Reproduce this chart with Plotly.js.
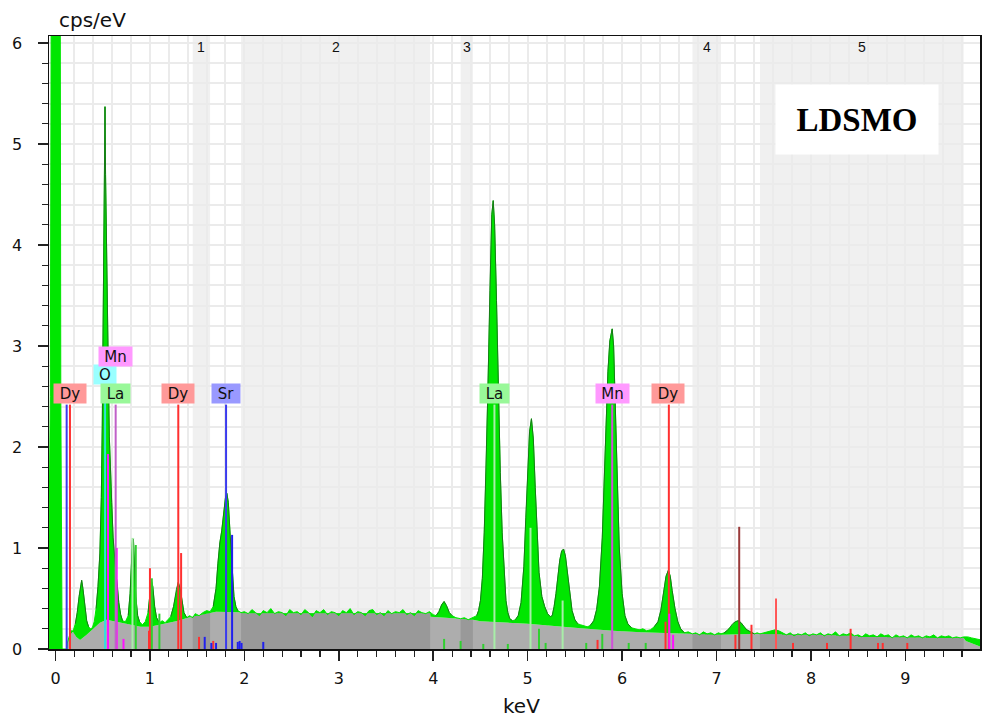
<!DOCTYPE html>
<html><head><meta charset="utf-8">
<script src="https://cdn.plot.ly/plotly-3.0.1.min.js"></script>
<style>body{margin:0;background:#fff}#chart{width:985px;height:718px}</style>
</head><body><div id="chart"></div>
<script>
// ---- measured spectrum (keV, cps/eV) ----
const specX = [-0.08,-0.069,-0.055,-0.042,0.048,0.056,0.064,0.07,0.12,0.125,0.15,0.17,0.19,0.21,0.23,0.25,0.265,0.277,0.29,0.31,0.33,0.35,0.37,0.39,0.41,0.43,0.45,0.47,0.485,0.495,0.505,0.515,0.524,0.53,0.54,0.55,0.56,0.57,0.58,0.595,0.61,0.625,0.64,0.655,0.67,0.69,0.71,0.74,0.77,0.79,0.805,0.815,0.825,0.835,0.85,0.87,0.89,0.92,0.95,0.98,1.00,1.015,1.03,1.05,1.07,1.10,1.13,1.16,1.19,1.22,1.25,1.28,1.30,1.32,1.34,1.36,1.39,1.42,1.453,1.48,1.52,1.56,1.60,1.637,1.67,1.70,1.72,1.74,1.76,1.78,1.80,1.815,1.83,1.85,1.87,1.89,1.91,1.93,1.965,
2.00,2.04,2.08,2.12,2.16,2.20,2.24,2.28,2.32,2.36,2.40,2.44,2.48,2.52,2.56,2.60,2.64,2.68,2.72,2.76,2.80,2.84,2.88,2.92,2.96,3.00,3.04,3.08,3.12,3.16,3.20,3.24,3.28,3.32,3.36,3.40,3.44,3.48,3.52,3.56,3.60,3.64,3.68,3.72,3.76,3.80,3.84,3.88,3.92,3.96,
4.00,4.03,4.06,4.09,4.115,4.14,4.17,4.20,4.24,4.29,4.33,4.37,4.42,4.46,4.48,4.50,4.52,4.54,4.56,4.58,4.60,4.62,4.635,4.65,4.67,4.69,4.71,4.73,4.75,4.77,4.79,4.81,4.84,4.87,4.90,4.93,4.96,4.98,5.00,5.02,5.04,5.06,5.08,5.10,5.12,5.15,5.18,5.21,5.24,5.26,5.28,5.30,5.32,5.34,5.36,5.38,5.40,5.42,5.44,5.47,5.50,5.53,5.56,5.60,5.63,5.66,5.70,5.73,5.76,5.79,5.81,5.83,5.85,5.87,5.895,5.91,5.93,5.95,5.97,6.00,6.03,6.06,6.10,6.14,6.18,6.22,6.26,6.30,6.34,6.38,6.41,6.44,6.465,6.49,6.51,6.53,6.56,6.59,6.62,6.66,6.70,6.745,6.78,6.82,6.86,6.90,6.94,6.98,7.02,7.047,7.08,7.11,7.14,7.17,7.20,7.23,7.26,7.29,7.32,7.36,7.40,7.43,7.46,7.50,7.54,7.58,7.62,7.66,7.70,7.74,7.78,7.82,7.86,7.90,7.94,7.98,8.02,8.06,8.10,8.14,8.18,8.22,8.26,8.30,8.34,8.38,8.42,8.46,8.50,8.54,8.58,8.62,8.66,8.70,8.74,8.78,8.82,8.86,8.90,8.94,8.98,9.02,9.06,9.10,9.14,9.18,9.22,9.26,9.30,9.34,9.38,9.42,9.46,9.50,9.54,9.58,9.617,9.66,9.70,9.75,9.80];
const specY = [0,0.9,2.5,8,8,2.5,0.3,0,0,0.06,0.14,0.17,0.19,0.25,0.36,0.52,0.63,0.68,0.60,0.42,0.28,0.22,0.20,0.21,0.27,0.40,0.62,0.95,1.5,2.2,3.2,4.3,5.37,4.7,3.8,3.2,2.7,2.1,1.75,1.45,1.1,0.88,0.75,0.62,0.46,0.34,0.28,0.27,0.33,0.55,0.85,1.08,1.09,0.88,0.52,0.33,0.27,0.24,0.27,0.36,0.55,0.68,0.62,0.42,0.31,0.26,0.28,0.26,0.29,0.32,0.42,0.59,0.66,0.60,0.46,0.36,0.31,0.33,0.31,0.35,0.33,0.36,0.38,0.37,0.42,0.60,0.85,1.05,1.17,1.32,1.50,1.54,1.45,1.12,0.76,0.52,0.42,0.38,0.36,
0.37,0.35,0.39,0.36,0.33,0.38,0.36,0.40,0.35,0.37,0.36,0.33,0.39,0.36,0.37,0.34,0.39,0.36,0.32,0.38,0.36,0.39,0.34,0.37,0.36,0.33,0.38,0.36,0.40,0.34,0.37,0.36,0.33,0.38,0.39,0.34,0.36,0.33,0.38,0.35,0.37,0.36,0.39,0.34,0.36,0.33,0.38,0.36,0.35,0.37,
0.34,0.33,0.37,0.44,0.47,0.43,0.36,0.33,0.31,0.30,0.31,0.29,0.31,0.33,0.38,0.48,0.70,1.15,1.8,2.6,3.55,4.3,4.44,4.2,3.45,2.5,1.75,1.15,0.75,0.48,0.36,0.30,0.28,0.29,0.33,0.46,0.82,1.3,1.8,2.15,2.28,2.08,1.6,1.12,0.76,0.52,0.42,0.35,0.32,0.33,0.42,0.55,0.72,0.88,0.97,0.99,0.92,0.76,0.56,0.38,0.29,0.25,0.24,0.23,0.22,0.23,0.28,0.39,0.62,1.1,1.6,2.2,2.75,3.05,3.17,3.0,2.4,1.6,1.0,0.55,0.33,0.25,0.21,0.20,0.19,0.20,0.18,0.19,0.22,0.27,0.38,0.56,0.72,0.78,0.72,0.58,0.40,0.27,0.20,0.16,0.17,0.15,0.16,0.14,0.17,0.15,0.16,0.14,0.16,0.15,0.16,0.18,0.21,0.25,0.27,0.28,0.26,0.22,0.19,0.17,0.15,0.16,0.15,0.16,0.17,0.18,0.19,0.18,0.16,0.14,0.16,0.13,0.15,0.14,0.16,0.13,0.15,0.14,0.16,0.13,0.15,0.14,0.17,0.13,0.15,0.14,0.16,0.13,0.14,0.12,0.15,0.13,0.14,0.12,0.15,0.13,0.14,0.11,0.14,0.12,0.13,0.11,0.14,0.12,0.13,0.11,0.13,0.12,0.14,0.11,0.13,0.12,0.13,0.11,0.12,0.11,0.12,0.12,0.11,0.10,0.09];

// ---- background (bremsstrahlung) ----
const bgX = [-0.08,0.11,0.125,0.17,0.22,0.26,0.33,0.40,0.47,0.54,0.60,0.70,0.80,0.90,1.00,1.10,1.20,1.30,1.40,1.453,1.55,1.637,1.70,1.965,1.97,3.967,3.97,4.29,4.42,4.50,5.00,5.50,5.90,6.20,6.745,7.047,7.46,8.10,8.80,9.617,9.64,9.80];
const bgY = [0,0,0.05,0.19,0.12,0.09,0.14,0.20,0.26,0.29,0.28,0.26,0.24,0.22,0.22,0.24,0.26,0.28,0.31,0.32,0.34,0.36,0.37,0.365,0.355,0.355,0.32,0.30,0.29,0.275,0.25,0.21,0.18,0.165,0.15,0.14,0.15,0.14,0.12,0.11,0.08,0.02];

// ---- integration bands ----
const bandLo = [1.453,1.965,4.29,6.745,7.46];
const bandHi = [1.637,3.967,4.42,7.047,9.617];
const bandNames = ['1','2','3','4','5'];

// ---- peak regions carrying the fitted outline ----
const fitLo = [0.21,0.43,0.77,0.96,1.22,1.67,4.03,4.46,4.87,5.66,6.34,7.08];
const fitHi = [0.35,0.71,0.89,1.10,1.39,1.93,4.20,4.84,5.53,6.10,6.66,7.40];

// ---- element marker lines ----
const markX = [0.153,1.30,6.495,1.00,0.99,1.33,7.63,7.37,8.42,6.46,7.20,1.52,1.67,5.74,7.81,8.17,8.71,8.76,9.02,
               7.24,
               0.118,1.806,1.87,1.58,1.65,1.70,1.93,1.95,1.97,2.20,
               0.525,
               0.556,0.648,0.72,6.50,6.54,
               0.637,5.895,
               4.648,0.815,0.85,1.02,1.10,5.03,5.37,4.115,4.29,4.53,4.79,5.12,5.19,5.62,5.79,6.07,6.25];
const markH = [2.42,2.42,2.42,0.80,0.18,0.95,0.50,0.24,0.20,0.27,0.14,0.12,0.08,0.09,0.06,0.06,0.06,0.06,0.06,
               1.21,
               2.42,2.42,1.13,0.12,0.06,0.06,0.07,0.08,0.06,0.07,
               2.62,
               1.93,1.00,0.10,0.35,0.14,
               2.42,2.42,
               2.42,1.10,1.03,0.70,0.35,1.20,0.48,0.10,0.08,0.05,0.05,0.20,0.06,0.06,0.15,0.06,0.06];
const markColor = ['#ff3030','#ff3030','#ff3030','#ff3030','#ff3030','#ff3030','#ff5555','#ff3030','#ff3030','#ff3030','#ff3030','#ff3030','#ff3030','#ff3030','#ff3030','#ff3030','#ff3030','#ff3030','#ff3030',
               '#9a3a3a',
               '#3a3aee','#3a3aee','#2020ee','#2020ee','#2020ee','#2020ee','#2020ee','#2020ee','#2020ee','#2020ee',
               '#33dddd',
               '#ff10ff','#ff10ff','#ff10ff','#ff10ff','#ff10ff',
               '#c060c8','#d050d8',
               '#a8eea8','#a8eea8','#30d030','#30d030','#30d030','#a8eea8','#a8eea8','#30d030','#30d030','#30d030','#30d030','#30d030','#30d030','#30d030','#30d030','#30d030','#30d030'];

// ---- element labels ----
const labText = ['Dy','O','Mn','La','Dy','Sr','La','Mn','Dy'];
const labX = [0.154,0.519,0.630,0.638,1.30,1.806,4.648,5.895,6.488];
const labY = [2.53,2.72,2.896,2.53,2.53,2.53,2.53,2.53,2.53];
const labW = [30,20,31,27,30,26,27,31,30];
const labBg = ['#ff9999','#99ffff','#ff99ff','#99f899','#ff9999','#9999ff','#99f899','#ff99ff','#ff9999'];

const sampleName = 'LDSMO';
const yTitle = 'cps/eV';
const xTitle = 'keV';

// ---------------------------------------------------------
const traces = [];
traces.push({x:bgX, y:bgY, type:'scatter', mode:'lines', fill:'tozeroy',
  fillcolor:'#adadad', line:{width:0, color:'#adadad'}, hoverinfo:'skip'});
bandLo.forEach((lo,i)=>{
  const bx=[], by=[];
  bgX.forEach((x,j)=>{ if(x>=lo-1e-9 && x<=bandHi[i]+1e-9){bx.push(x);by.push(bgY[j]);} });
  traces.push({x:bx, y:by, type:'scatter', mode:'lines', fill:'tozeroy',
    fillcolor:'#999999', line:{width:0, color:'#999999'}, hoverinfo:'skip'});
});
traces.push({x:bgX, y:bgY, type:'scatter', mode:'lines', line:{width:0, color:'rgba(0,0,0,0)'}, hoverinfo:'skip'});
traces.push({x:specX, y:specY, type:'scatter', mode:'lines', fill:'tonexty',
  fillcolor:'#00e600', line:{width:1, color:'#00e600'}, hoverinfo:'skip'});
// fitted outline on peaks
const fx=[], fy=[];
fitLo.forEach((lo,i)=>{
  specX.forEach((x,j)=>{ if(x>=lo && x<=fitHi[i]){fx.push(x);fy.push(specY[j]);} });
  fx.push(null); fy.push(null);
});
traces.push({x:fx, y:fy, type:'scatter', mode:'lines', line:{width:0.9, color:'#1a6e1a'}, hoverinfo:'skip'});
// marker lines grouped by colour
const groups = {};
markX.forEach((x,i)=>{
  const c = markColor[i];
  if(!groups[c]) groups[c]={x:[],y:[]};
  groups[c].x.push(x,x,null); groups[c].y.push(0,markH[i],null);
});
Object.keys(groups).forEach(c=>{
  traces.push({x:groups[c].x, y:groups[c].y, type:'scatter', mode:'lines',
    line:{width:2, color:c}, hoverinfo:'skip'});
});

const shapes = bandLo.map((lo,i)=>({type:'rect', xref:'x', yref:'paper', x0:lo, x1:bandHi[i], y0:0, y1:1,
  fillcolor:'#f0f0f0', line:{width:0}, layer:'between'}));

const annotations = [];
bandLo.forEach((lo,i)=>annotations.push({x:(lo+bandHi[i])/2, y:5.96, xref:'x', yref:'y', text:bandNames[i],
  showarrow:false, font:{family:'Liberation Sans, Arial', size:14, color:'#111'}}));
labText.forEach((t,i)=>annotations.push({x:labX[i], y:labY[i], xref:'x', yref:'y', text:t, showarrow:false,
  bgcolor:labBg[i], width:labW[i], height:17, borderpad:1, align:'center',
  font:{family:'DejaVu Sans', size:15, color:'#111'}}));
annotations.push({x:8.49, y:5.24, xref:'x', yref:'y', text:'<b>'+sampleName+'</b>', showarrow:false,
  bgcolor:'#ffffff', width:156, height:63, borderpad:3,
  font:{family:'Liberation Serif, Times New Roman', size:33, color:'#000'}});
annotations.push({x:(92.5-49)/931, y:1+(36-20)/613, xref:'paper', yref:'paper', text:yTitle, showarrow:false,
  xanchor:'center', yanchor:'middle', font:{family:'DejaVu Sans', size:20, color:'#111'}});
annotations.push({x:(521.7-49)/931, y:-(706-649)/613, xref:'paper', yref:'paper', text:xTitle, showarrow:false,
  xanchor:'center', yanchor:'middle', font:{family:'DejaVu Sans', size:20, color:'#111'}});

const axisCommon = {
  showline:true, linecolor:'#111', linewidth:1.5, mirror:true,
  ticks:'outside', ticklen:10, tickwidth:1.5, tickcolor:'#222',
  showgrid:true, gridcolor:'#ebebeb', gridwidth:2, zeroline:false,
  tickfont:{family:'DejaVu Sans', size:16, color:'#111'},
  minor:{dtick:0.2, tick0:0, ticks:'outside', ticklen:6, tickwidth:1.2, tickcolor:'#222',
         showgrid:true, gridcolor:'#ebebeb', gridwidth:2}
};
const layout = {
  width:985, height:718, margin:{l:49, r:5, t:36, b:69},
  paper_bgcolor:'#fff', plot_bgcolor:'#fff', showlegend:false,
  xaxis:Object.assign({}, axisCommon, {range:[-0.069, 9.79], tick0:0, dtick:1, ticklabelstandoff:4}),
  yaxis:Object.assign({}, axisCommon, {range:[0, 6.07], tick0:0, dtick:1, ticklabelstandoff:12}),
  shapes:shapes, annotations:annotations
};
Plotly.newPlot('chart', traces, layout, {displayModeBar:false, staticPlot:true});
</script></body></html>
